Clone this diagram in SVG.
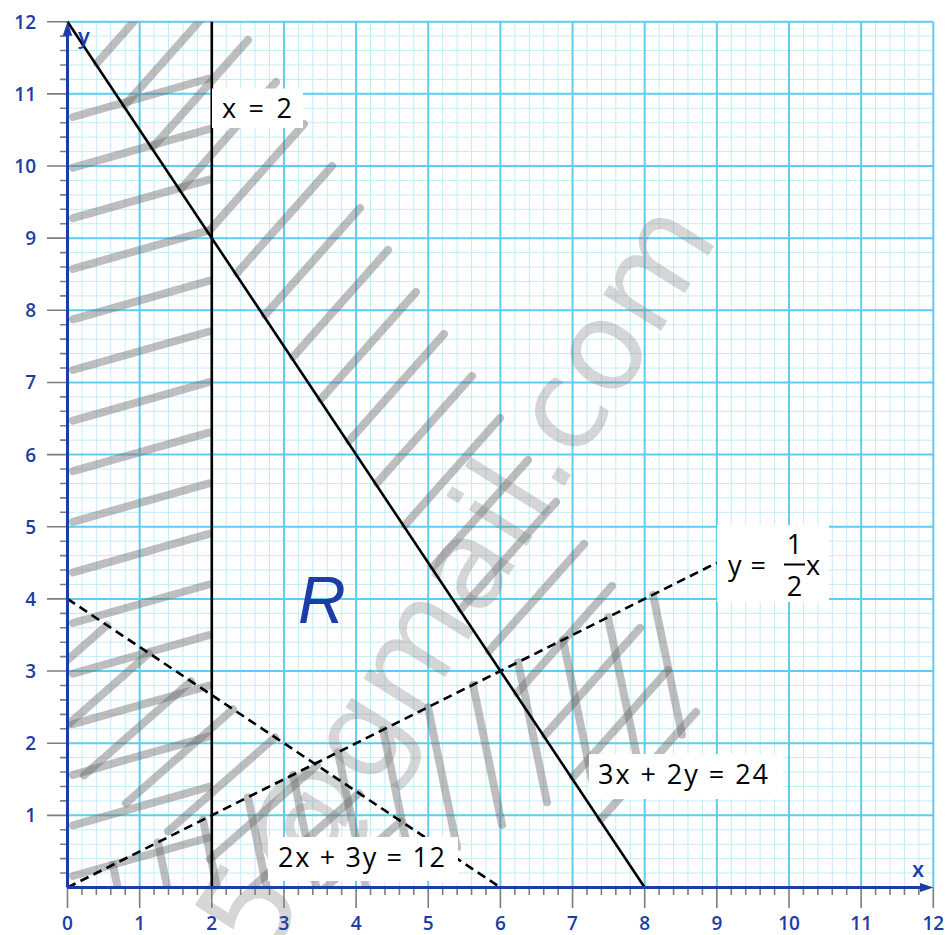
<svg xmlns="http://www.w3.org/2000/svg" width="947" height="935" viewBox="0 0 947 935">
<defs>
<style>
.minor{stroke:#c4ecf8;stroke-width:1;fill:none}
.major{stroke:#5fcdef;stroke-width:2;fill:none}
.tick{stroke:#7d7d7d;stroke-width:1.6;fill:none}
.hatch{stroke:#6a6a6a;stroke-opacity:0.44;stroke-width:8;stroke-linecap:round;fill:none}
.solid{stroke:#000;stroke-width:2.6;fill:none}
.dash{stroke:#000;stroke-width:2.6;fill:none;stroke-dasharray:9 5.5}
.axis{stroke:#1c3da6;stroke-width:3;fill:none}
.box{fill:#fff}
.lbl{font-family:"Open Sans","Liberation Sans",Arial,sans-serif;font-weight:500;font-size:27px;fill:#000}
.num{font-family:"Open Sans","Liberation Sans",Arial,sans-serif;font-weight:600;font-size:19px;fill:#1c3da6}
.wm{font-family:"DejaVu Sans",sans-serif;font-size:125px;fill:#808080;fill-opacity:0.32}
</style>
<clipPath id="plot"><rect x="69" y="21.7" width="866" height="865"/></clipPath>
<marker id="arr" viewBox="0 0 14 10" refX="6.5" refY="5" markerWidth="14" markerHeight="10" markerUnits="userSpaceOnUse" orient="auto">
<path d="M0 0.3L14 5L0 9.7z" fill="#1c3da6"/>
</marker>
</defs>
<rect width="947" height="935" fill="#fff"/>

<g id="grid">
<path class="minor" d="M81.93 21.7V887.5M96.36 21.7V887.5M110.79 21.7V887.5M125.22 21.7V887.5M154.08 21.7V887.5M168.51 21.7V887.5M182.94 21.7V887.5M197.37 21.7V887.5M226.23 21.7V887.5M240.66 21.7V887.5M255.09 21.7V887.5M269.52 21.7V887.5M298.38 21.7V887.5M312.81 21.7V887.5M327.24 21.7V887.5M341.67 21.7V887.5M370.53 21.7V887.5M384.96 21.7V887.5M399.39 21.7V887.5M413.82 21.7V887.5M442.68 21.7V887.5M457.11 21.7V887.5M471.54 21.7V887.5M485.97 21.7V887.5M514.83 21.7V887.5M529.26 21.7V887.5M543.69 21.7V887.5M558.12 21.7V887.5M586.98 21.7V887.5M601.41 21.7V887.5M615.84 21.7V887.5M630.27 21.7V887.5M659.13 21.7V887.5M673.56 21.7V887.5M687.99 21.7V887.5M702.42 21.7V887.5M731.28 21.7V887.5M745.71 21.7V887.5M760.14 21.7V887.5M774.57 21.7V887.5M803.43 21.7V887.5M817.86 21.7V887.5M832.29 21.7V887.5M846.72 21.7V887.5M875.58 21.7V887.5M890.01 21.7V887.5M904.44 21.7V887.5M918.87 21.7V887.5
M67.5 873.07H933.3M67.5 858.64H933.3M67.5 844.21H933.3M67.5 829.78H933.3M67.5 800.92H933.3M67.5 786.49H933.3M67.5 772.06H933.3M67.5 757.63H933.3M67.5 728.77H933.3M67.5 714.34H933.3M67.5 699.91H933.3M67.5 685.48H933.3M67.5 656.62H933.3M67.5 642.19H933.3M67.5 627.76H933.3M67.5 613.33H933.3M67.5 584.47H933.3M67.5 570.04H933.3M67.5 555.61H933.3M67.5 541.18H933.3M67.5 512.32H933.3M67.5 497.89H933.3M67.5 483.46H933.3M67.5 469.03H933.3M67.5 440.17H933.3M67.5 425.74H933.3M67.5 411.31H933.3M67.5 396.88H933.3M67.5 368.02H933.3M67.5 353.59H933.3M67.5 339.16H933.3M67.5 324.73H933.3M67.5 295.87H933.3M67.5 281.44H933.3M67.5 267.01H933.3M67.5 252.58H933.3M67.5 223.72H933.3M67.5 209.29H933.3M67.5 194.86H933.3M67.5 180.43H933.3M67.5 151.57H933.3M67.5 137.14H933.3M67.5 122.71H933.3M67.5 108.28H933.3M67.5 79.42H933.3M67.5 64.99H933.3M67.5 50.56H933.3M67.5 36.13H933.3"/>
<path class="major" d="M139.65 21.7V887.5M211.8 21.7V887.5M283.95 21.7V887.5M356.1 21.7V887.5M428.25 21.7V887.5M500.4 21.7V887.5M572.55 21.7V887.5M644.7 21.7V887.5M716.85 21.7V887.5M789 21.7V887.5M861.15 21.7V887.5M933.3 21.7V887.5
M67.5 815.35H933.3M67.5 743.2H933.3M67.5 671.05H933.3M67.5 598.9H933.3M67.5 526.75H933.3M67.5 454.6H933.3M67.5 382.45H933.3M67.5 310.3H933.3M67.5 238.15H933.3M67.5 166H933.3M67.5 93.85H933.3M67.5 21.7H933.3"/>
</g>

<g id="ticks">
<path class="tick" d="M60 873.07H67.5M60 858.64H67.5M60 844.21H67.5M60 829.78H67.5M60 800.92H67.5M60 786.49H67.5M60 772.06H67.5M60 757.63H67.5M60 728.77H67.5M60 714.34H67.5M60 699.91H67.5M60 685.48H67.5M60 656.62H67.5M60 642.19H67.5M60 627.76H67.5M60 613.33H67.5M60 584.47H67.5M60 570.04H67.5M60 555.61H67.5M60 541.18H67.5M60 512.32H67.5M60 497.89H67.5M60 483.46H67.5M60 469.03H67.5M60 440.17H67.5M60 425.74H67.5M60 411.31H67.5M60 396.88H67.5M60 368.02H67.5M60 353.59H67.5M60 339.16H67.5M60 324.73H67.5M60 295.87H67.5M60 281.44H67.5M60 267.01H67.5M60 252.58H67.5M60 223.72H67.5M60 209.29H67.5M60 194.86H67.5M60 180.43H67.5M60 151.57H67.5M60 137.14H67.5M60 122.71H67.5M60 108.28H67.5M60 79.42H67.5M60 64.99H67.5M60 50.56H67.5M60 36.13H67.5
M47 815.35H67.5M47 743.2H67.5M47 671.05H67.5M47 598.9H67.5M47 526.75H67.5M47 454.6H67.5M47 382.45H67.5M47 310.3H67.5M47 238.15H67.5M47 166H67.5M47 93.85H67.5M47 21.7H67.5
M81.93 887.5V895M96.36 887.5V895M110.79 887.5V895M125.22 887.5V895M154.08 887.5V895M168.51 887.5V895M182.94 887.5V895M197.37 887.5V895M226.23 887.5V895M240.66 887.5V895M255.09 887.5V895M269.52 887.5V895M298.38 887.5V895M312.81 887.5V895M327.24 887.5V895M341.67 887.5V895M370.53 887.5V895M384.96 887.5V895M399.39 887.5V895M413.82 887.5V895M442.68 887.5V895M457.11 887.5V895M471.54 887.5V895M485.97 887.5V895M514.83 887.5V895M529.26 887.5V895M543.69 887.5V895M558.12 887.5V895M586.98 887.5V895M601.41 887.5V895M615.84 887.5V895M630.27 887.5V895M659.13 887.5V895M673.56 887.5V895M687.99 887.5V895M702.42 887.5V895M731.28 887.5V895M745.71 887.5V895M760.14 887.5V895M774.57 887.5V895M803.43 887.5V895M817.86 887.5V895M832.29 887.5V895M846.72 887.5V895M875.58 887.5V895M890.01 887.5V895M904.44 887.5V895M918.87 887.5V895
M67.5 887.5V908M139.65 887.5V908M211.8 887.5V908M283.95 887.5V908M356.1 887.5V908M428.25 887.5V908M500.4 887.5V908M572.55 887.5V908M644.7 887.5V908M716.85 887.5V908M789 887.5V908M861.15 887.5V908M933.3 887.5V908"/>
</g>

<g id="hatching" clip-path="url(#plot)">
<path class="hatch" d="M73 117L209 78.5M73 167.6L209 129.1M73 218.2L209 179.7M73 268.8L209 230.3M73 319.4L209 280.9M73 370L209 331.5M73 420.6L209 382.1M73 471.2L209 432.7M73 521.8L209 483.3M73 572.4L209 533.9M73 623L209 584.5M73 673.6L209 635.1M73 724.2L209 685.7M73 774.8L209 736.3M73 825.4L209 786.9M73 876L209 837.5"/>
<path class="hatch" d="M97 63L192 -44M125 105L220 -2M153 147L248 40M181 189L276 82M209 231L304 124M237 273L332 166M265 315L360 208M293 357L388 250M321 399L416 292M349 441L444 334M377 483L472 376M405 525L500 418M433 567L528 460M461 609L556 502M489 651L584 544M517 693L612 586M545 735L640 628M573 777L668 670M601 819L696 712"/>
<path class="hatch" d="M107 625.3L0 719.3M149 653.3L42 747.3M191 681.3L84 775.3M233 709.3L126 803.3M275 737.3L168 831.3M317 765.3L210 859.3M359 793.3L252 887.3M401 821.3L294 915.3"/>
<path class="hatch" d="M113 864.8L142 1004.8M158 842.3L187 982.3M203 819.8L232 959.8M248 797.3L277 937.3M293 774.8L322 914.8M338 752.3L367 892.3M383 729.8L412 869.8M428 707.3L457 847.3M473 684.8L502 824.8M518 662.3L547 802.3M563 639.8L592 779.8M608 617.3L637 757.3M653 594.8L682 734.8"/>
</g>

<g id="watermark">
<text class="wm" transform="translate(265 965) rotate(-58)">5@gmail.com</text>
</g>

<g id="connectors">
<line id="line-x2" class="solid" x1="211.8" y1="21.7" x2="211.8" y2="887.5"/>
<line id="line-3x2y24" class="solid" x1="67.5" y1="21.7" x2="644.7" y2="887.5"/>
<line id="line-2x3y12" class="dash" x1="67.5" y1="598.9" x2="500.4" y2="887.5"/>
<line id="line-yhalfx" class="dash" x1="67.5" y1="887.5" x2="716.85" y2="562.8"/>
</g>

<g id="axes">
<line class="axis" x1="67.5" y1="887.5" x2="926" y2="887.5" marker-end="url(#arr)"/>
<line class="axis" x1="67.5" y1="887.5" x2="67.5" y2="29.2" marker-end="url(#arr)"/>
<text class="num" x="912" y="877" style="font-size:22px">x</text>
<text class="num" x="78" y="44" style="font-size:22px">y</text>
</g>

<g id="x-numbers" class="num" text-anchor="middle">
<text x="67.5" y="929.5">0</text>
<text x="139.65" y="929.5">1</text>
<text x="211.8" y="929.5">2</text>
<text x="283.95" y="929.5">3</text>
<text x="356.1" y="929.5">4</text>
<text x="428.25" y="929.5">5</text>
<text x="500.4" y="929.5">6</text>
<text x="572.55" y="929.5">7</text>
<text x="644.7" y="929.5">8</text>
<text x="716.85" y="929.5">9</text>
<text x="789" y="929.5">10</text>
<text x="861.15" y="929.5">11</text>
<text x="933.3" y="929.5">12</text>
</g>
<g id="y-numbers" class="num" text-anchor="end">
<text x="36" y="822.3">1</text>
<text x="36" y="750.2">2</text>
<text x="36" y="678">3</text>
<text x="36" y="605.9">4</text>
<text x="36" y="533.8">5</text>
<text x="36" y="461.6">6</text>
<text x="36" y="389.4">7</text>
<text x="36" y="317.3">8</text>
<text x="36" y="245.1">9</text>
<text x="36" y="173">10</text>
<text x="36" y="100.8">11</text>
<text x="36" y="28.7">12</text>
</g>

<g id="label-x2">
<rect class="box" x="212" y="88.5" width="91" height="39.5"/>
<text class="lbl" x="222" y="117.5" textLength="70" lengthAdjust="spacing">x = 2</text>
</g>
<g id="label-yhalfx">
<rect class="box" x="717" y="525" width="112" height="77"/>
<text class="lbl" x="728" y="575">y <tspan dx="2">=</tspan></text>
<text class="lbl" x="794.5" y="554" text-anchor="middle">1</text>
<line x1="784" y1="564.5" x2="805" y2="564.5" stroke="#000" stroke-width="2"/>
<text class="lbl" x="794.5" y="596" text-anchor="middle">2</text>
<text class="lbl" x="806" y="575">x</text>
</g>
<g id="label-3x2y24">
<rect class="box" x="589" y="754" width="194" height="45"/>
<text class="lbl" x="598" y="784" textLength="170" lengthAdjust="spacing">3x + 2y = 24</text>
</g>
<g id="label-2x3y12">
<rect class="box" x="268" y="837" width="190" height="44"/>
<text class="lbl" x="278" y="867" textLength="167" lengthAdjust="spacing">2x + 3y = 12</text>
</g>
<g id="label-R">
<text x="298" y="623" style="font-family:'Liberation Sans',Arial,sans-serif;font-size:66px;font-style:italic;fill:#1c3da6">R</text>
</g>
</svg>
